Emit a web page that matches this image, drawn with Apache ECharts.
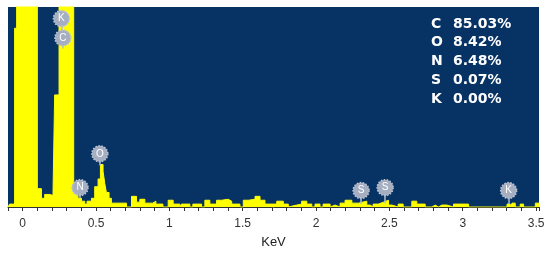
<!DOCTYPE html>
<html>
<head>
<meta charset="utf-8">
<script src="https://cdn.jsdelivr.net/npm/echarts@6/dist/echarts.min.js"></script>
<style>
  html, body { margin: 0; padding: 0; background: #ffffff; }
  #chart { width: 550px; height: 254px; }
</style>
</head>
<body>
<div id="chart"></div>
<script>
// spectrum: left edge of each step (KeV) and its height (counts, arbitrary)
const energy = [-0.1, -0.089, -0.055, -0.041, 0.100, 0.128, 0.150, 0.184, 0.207, 0.218, 0.248,
  0.348, 0.377, 0.401, 0.423, 0.439, 0.469, 0.491, 0.514, 0.530, 0.548, 0.560, 0.571, 0.589, 0.605,
  0.708, 0.742, 0.776, 0.799, 0.833, 0.887, 0.908, 0.956, 0.992, 1.026, 1.072, 1.083, 1.140, 1.160,
  1.220, 1.242, 1.276, 1.322, 1.356, 1.401, 1.425, 1.481, 1.504, 1.538, 1.584, 1.618, 1.652, 1.732,
  1.777, 1.811, 1.823, 1.868, 1.902, 1.937, 1.971, 1.993, 2.027, 2.048, 2.096, 2.107, 2.130, 2.164,
  2.198, 2.244, 2.289, 2.346, 2.369, 2.389, 2.425, 2.459, 2.494, 2.517, 2.560, 2.594, 2.653, 2.687,
  2.744, 2.790, 2.812, 2.835, 2.858, 2.869, 2.892, 2.937, 3.040, 3.302, 3.324, 3.336, 3.358, 3.392,
  3.415, 3.495, 3.52]
const counts = [0, 3, 185, 600, 19, 9, 13, 12, 16, 116, 420,
  14, 9, 6, 3, 6, 9, 21, 29, 44, 37, 24, 15, 9, 4,
  0, 11, 5, 8, 4, 6, 3, 0, 7, 3, 0, 3, 0, 3,
  0, 7, 3, 7, 8, 6, 3, 0, 7, 8, 11, 7, 3, 6,
  3, 0, 2, 3, 6, 3, 0, 3, 0, 3, 0, 2, 0, 4,
  7, 4, 6, 2, 0, 3, 5, 7, 2, 0, 3, 0, 6, 3,
  0, 2, 0, 2, 0, 2, 0, 3, 0, 3, 0, 4, 0, 3,
  0, 4, 4]

// peak markers
const badgeLabels = ['K', 'C', 'O', 'N', 'S', 'S', 'K']
const badgeEnergy = [0.264, 0.274, 0.526, 0.391, 2.307, 2.471, 3.313]
const badgeHeight = [195, 175, 55, 20, 17, 20, 17]
const stemEnd = [183, 164, 43, 9, 3, 4, 3]

// composition table
const elements = ['C', 'O', 'N', 'S', 'K']
const percents = ['85.03%', '8.42%', '6.48%', '0.07%', '0.00%']

const chart = echarts.init(document.getElementById('chart'))

const spectrum = energy.map((e, i) => [e, counts[i]])
const badges = badgeEnergy.map((e, i) => [e, badgeHeight[i], badgeLabels[i]])
const stems = badgeEnergy.map((e, i) => [
  { coord: [e, badgeHeight[i] - 7] },
  { coord: [e, stemEnd[i]] },
])

const tableText = elements.map((el, i) => ({
  type: 'group',
  left: 431,
  top: 17 + i * 18.8,
  children: [
    { type: 'text', left: 0, top: 0, style: { text: el, fill: '#ffffff', font: 'bold 14px "DejaVu Sans"' } },
    { type: 'text', left: 22, top: 0, style: { text: percents[i], fill: '#ffffff', font: 'bold 14px "DejaVu Sans"' } },
  ],
}))

const option = {
  animation: false,
  grid: {
    left: 8,
    right: 11,
    top: 7,
    bottom: 40,
    show: true,
    backgroundColor: '#073264',
    borderColor: '#073264',
    borderWidth: 0,
  },
  xAxis: {
    type: 'value',
    min: -0.1,
    max: 3.52,
    interval: 0.1,
    name: 'KeV',
    nameLocation: 'middle',
    nameGap: 29,
    nameTextStyle: { color: '#222222', fontSize: 13, fontFamily: 'Liberation Sans' },
    splitLine: { show: false },
    axisLine: { show: true, lineStyle: { color: '#333333', width: 1 } },
    axisTick: { show: true, length: 4, lineStyle: { color: '#333333' } },
    axisLabel: {
      interval: 0,
      hideOverlap: false,
      margin: 11,
      color: '#333333',
      fontSize: 12,
      fontFamily: 'Liberation Sans',
      formatter: (v) => {
        const r = Math.round(v * 2) / 2
        if (Math.abs(v - r) > 1e-6 || r < 0) return ''
        return String(r)
      },
    },
  },
  yAxis: {
    type: 'value',
    min: 0,
    max: 207,
    show: false,
  },
  series: [
    {
      type: 'line',
      step: 'end',
      data: spectrum,
      symbol: 'none',
      clip: true,
      lineStyle: { color: '#ffff00', width: 1 },
      areaStyle: { color: '#ffff00', opacity: 1 },
      z: 2,
    },
    {
      type: 'scatter',
      data: badges,
      symbol: 'circle',
      symbolSize: 16,
      clip: false,
      itemStyle: { color: '#a6afc1', borderColor: '#bcc3d1', borderWidth: 1.5, borderType: 'dotted', opacity: 1 },
      label: {
        show: true,
        position: 'inside',
        formatter: (p) => p.value[2],
        color: '#ffffff',
        fontSize: 10,
        fontFamily: 'Liberation Sans',
      },
      markLine: {
        silent: true,
        symbol: 'none',
        label: { show: false },
        lineStyle: { color: '#b3bccb', width: 1.5, type: 'solid' },
        data: stems,
      },
      z: 3,
    },
  ],
  graphic: tableText,
}

chart.setOption(option)
</script>
</body>
</html>
